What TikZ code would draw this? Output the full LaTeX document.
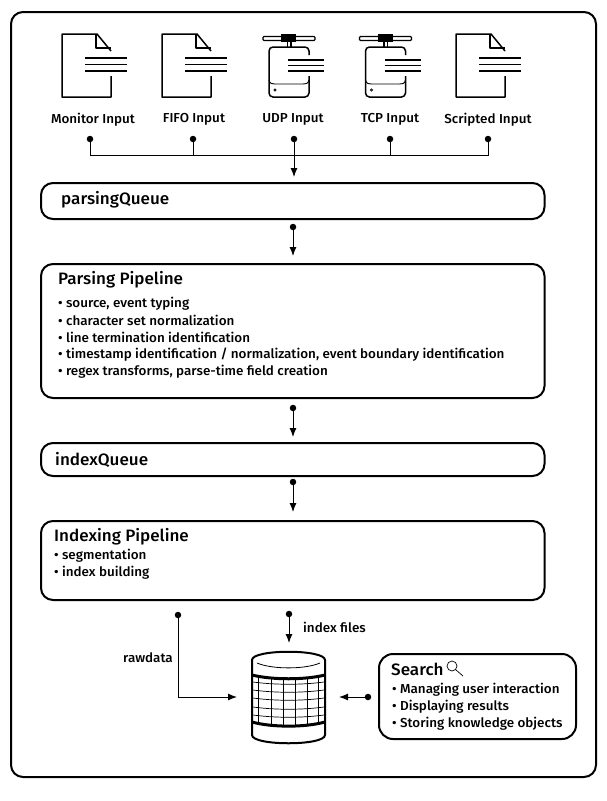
\documentclass[tikz,border=0pt]{standalone}
\usepackage{fontspec}
\setmainfont[FakeStretch=1.035]{Fira Sans Medium}
\usetikzlibrary{arrows.meta}
\tikzset{
 x=1pt,y=-1pt,
 frame/.style={draw=black,line width=2pt,rounded corners=12pt},
 qbox/.style={draw=black,line width=2pt,rounded corners=12pt,minimum width=503.5pt,inner sep=0pt,outer sep=0pt,anchor=north west},
 dotn/.style={circle,fill=black,inner sep=0pt,minimum size=6.5pt},
 conn/.style={line width=1pt,black},
 arr/.style={conn,-{Latex[length=9pt,width=7pt]}},
 lab/.style={inner sep=0pt,font=\fontsize{13}{14}\selectfont},
 ttl/.style={inner sep=0pt,anchor=west,font=\fontsize{16.5}{18}\selectfont},
 itm/.style={inner sep=0pt,anchor=west,font=\fontsize{13}{14}\selectfont},
 ico/.style={line width=1.5pt,line join=round,black},
}
\newcommand{\docicon}[1]{\begin{scope}[xshift=#1pt]
 \draw[ico] (111,51) -- (97,34) -- (62,34) -- (62,97) -- (111,97) -- (111,76);
 \draw[ico] (96,34) -- (96,48) -- (111,48) ;
 \draw[ico] (85,58) -- (127,58) (85,64.5) -- (127,64.5) (85,71) -- (127,71);
\end{scope}}
\newcommand{\hdicon}[1]{\begin{scope}[xshift=#1pt]
 \draw[line width=1.3pt,rounded corners=1pt,fill=white] (263,36.5) rectangle (315,40.5);
 \fill[black] (281,34) rectangle (296,42);
 \draw[line width=1.2pt] (287.5,42) -- (287.5,47) (291,42) -- (291,47);
 \draw[ico,rounded corners=4pt] (309,55) -- (309,47) -- (269,47) -- (269,97) -- (309,97) -- (309,76);
 \draw[line width=.9pt] (269,80) .. controls (270,84) and (272,84) .. (275,84) -- (303,84) .. controls (306,84) and (308,84) .. (309,80);
 \draw[line width=.7pt] (275,90) circle (1.2pt);
 \draw[ico] (288,60) -- (324,60) (288,65.5) -- (324,65.5) (288,71) -- (324,71);
\end{scope}}
\begin{document}
\begin{tikzpicture}
\useasboundingbox (0,0) rectangle (607,801);
\fill[white] (0,0) rectangle (607,801);
\draw[frame] (11,12) rectangle (596,777);
% icons
\docicon{0}\docicon{100}\hdicon{0}\hdicon{96.5}\docicon{394}
% labels
\node[lab] (l1) at (93,119.5) {Monitor Input};
\node[lab] (l2) at (194,119.5) {FIFO Input};
\node[lab] (l3) at (293,119.5) {UDP Input};
\node[lab] (l4) at (390,119.5) {TCP Input};
\node[lab] (l5) at (488,119.5) {Scripted Input};
% dots
\node[dotn] (d1) at (90,139) {};
\node[dotn] (d2) at (193,139) {};
\node[dotn] (d3) at (294,139) {};
\node[dotn] (d4) at (390,139) {};
\node[dotn] (d5) at (488,139) {};
\coordinate (bus) at (294,155);
% boxes
\node[qbox,minimum height=36pt] (pq) at (41,183) {};
\node[ttl] at (61,199.5) {parsingQueue};
\node[qbox,minimum height=134pt] (pp) at (41,264) {};
\node[ttl] at (58,279.5) {Parsing Pipeline};
\node[itm] at (58,303.5) {• source, event typing};
\node[itm] at (58,320.5) {• character set normalization};
\node[itm] at (58,337.5) {• line termination identification};
\node[itm] at (58,354.5) {• timestamp identification / normalization, event boundary identification};
\node[itm] at (58,371.5) {• regex transforms, parse-time field creation};
\node[qbox,minimum height=33pt] (iq) at (41,443) {};
\node[ttl] at (55,459.5) {indexQueue};
\node[qbox,minimum height=79pt] (ip) at (41,521) {};
\node[ttl] at (54,536.5) {Indexing Pipeline};
\node[itm] at (54,555.5) {• segmentation};
\node[itm] at (54,572.5) {• index building};
% connectors top
\draw[conn] (d1.center) |- (d5.center |- bus) -- (d5.center);
\draw[conn] (d2.center) -- (d2.center |- bus);
\draw[conn] (d4.center) -- (d4.center |- bus);
\coordinate (t1) at (294,177);
\draw[arr] (d3.center) -- (t1);
\node[dotn] (d6) at (293,227) {}; \coordinate (t2) at (293,256);
\draw[arr] (d6.center) -- (t2);
\node[dotn] (d7) at (293,408) {}; \coordinate (t3) at (293,437);
\draw[arr] (d7.center) -- (t3);
\node[dotn] (d8) at (293,482) {}; \coordinate (t4) at (293,512);
\draw[arr] (d8.center) -- (t4);
% bottom
\node[dotn] (d9) at (178,615) {}; \coordinate (t5) at (237,697);
\draw[arr] (d9.center) |- (t5);
\node[dotn] (d10) at (289,614) {}; \coordinate (t6) at (289,643);
\draw[arr] (d10.center) -- (t6);
\node[lab,anchor=west] at (303,627.5) {index files};
\node[lab] at (148,657.5) {rawdata};
\node[dotn] (d11) at (368,697) {}; \coordinate (t7) at (339,697);
\draw[arr] (d11.center) -- (t7);
% cylinder
\foreach \yy in {682,690,698,707,715} \draw[line width=.7pt] (253,\yy) .. controls (275,\yy+3) and (302,\yy+3) .. (324,\yy);
\foreach \xx in {258,271,283,295,307,318} \draw[line width=.7pt] (\xx,677) -- (\xx,725);
\draw[line width=.8pt] (257,663) .. controls (272,669.5) and (305,669.5) .. (320,663);
\draw[line width=2pt] (252,660) .. controls (252,649) and (325,649) .. (325,660) -- (325,735) .. controls (325,746) and (252,746) .. (252,735) -- cycle;
\draw[line width=3pt] (252,675) .. controls (272,680) and (305,680) .. (325,675);
\draw[line width=3pt] (252,722) .. controls (272,727.5) and (305,727.5) .. (325,722);
% search
\node[draw=black,line width=2pt,rounded corners=14pt,minimum width=197pt,minimum height=85pt,inner sep=0pt,outer sep=0pt,anchor=north west] (sb) at (379,654) {};
\node[ttl] (st) at (391,669.5) {Search};
\draw[line width=.7pt] (452,666) circle (5pt) (455.5,669.5) -- (463,676);
\node[itm] at (392,689.5) {• Managing user interaction};
\node[itm] at (392,706.5) {• Displaying results};
\node[itm] at (392,723.5) {• Storing knowledge objects};
\end{tikzpicture}
\end{document}
